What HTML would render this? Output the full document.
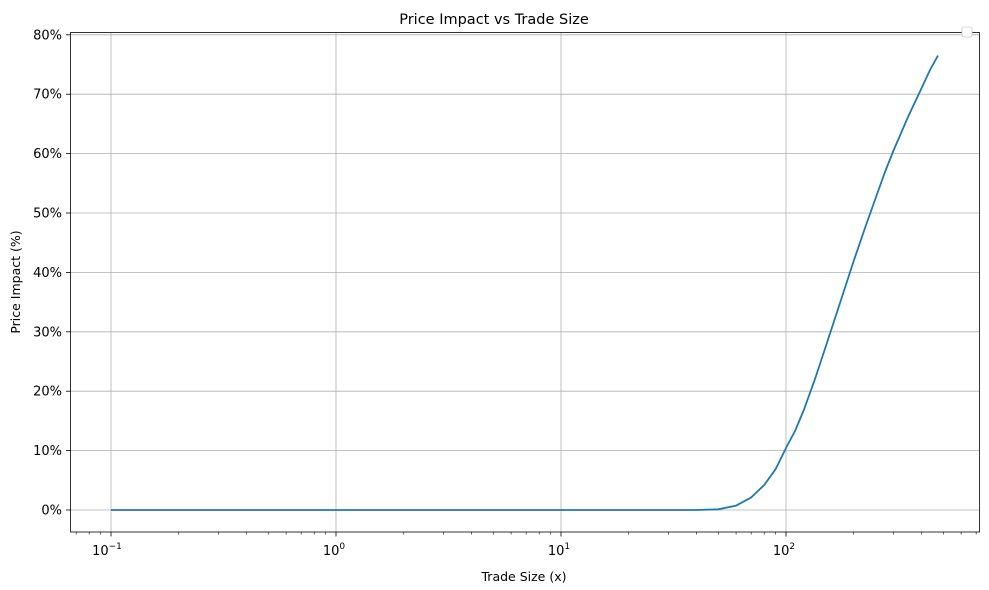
<!DOCTYPE html>
<html><head><style>body{margin:0;background:#fff}svg{display:block;font-family:"DejaVu Sans","Liberation Sans",sans-serif}</style></head><body>
<svg width="989" height="590" xmlns="http://www.w3.org/2000/svg">
<g stroke="#b0b0b0" stroke-width="0.8" id="grid"></g>
<g id="ticks" stroke="#000" stroke-width="0.8"></g>
<g id="labels" font-size="13" fill="#000"></g>
<g font-size="13" fill="#000" text-anchor="middle">
<text x="107" y="555">10<tspan font-size="9" dy="-6">−1</tspan></text>
<text x="334" y="555">10<tspan font-size="9" dy="-6">0</tspan></text>
<text x="559" y="555">10<tspan font-size="9" dy="-6">1</tspan></text>
<text x="784" y="555">10<tspan font-size="9" dy="-6">2</tspan></text>
</g>
<polyline fill="none" stroke="#1f77b4" stroke-width="1.8" points="111,510 696.5,510 718.3,509.3 736.1,505.6 751.1,497.5 764.2,485 775.7,469 786,448 795.5,430 803.8,410 815,379 825.6,347 840,303 853.7,261 865,228 875.5,198.5 885,172 893.3,151 908,117 921.4,88.5 930,70 938,55.6"/>
<rect x="70.5" y="32.5" width="909" height="499.5" fill="none" stroke="#000" stroke-width="0.8"/>
<rect x="962" y="27" width="10" height="10" rx="2" fill="#fff" stroke="#ccc" stroke-width="0.8"/>
<text x="494" y="24" font-size="14.5" text-anchor="middle">Price Impact vs Trade Size</text>
<text x="524" y="581" font-size="12.5" text-anchor="middle">Trade Size (x)</text>
<text x="20" y="282" font-size="12.5" text-anchor="middle" transform="rotate(-90 20 282)">Price Impact (%)</text>
<script>
var g=document.getElementById('grid'),t=document.getElementById('ticks'),l=document.getElementById('labels'),ns="http://www.w3.org/2000/svg";
function ln(p,a,b,c,d,w){var e=document.createElementNS(ns,'line');e.setAttribute('x1',a);e.setAttribute('y1',b);e.setAttribute('x2',c);e.setAttribute('y2',d);if(w)e.setAttribute('stroke-width',w);p.appendChild(e);}
function tx(x,y,s,a){var e=document.createElementNS(ns,'text');e.setAttribute('x',x);e.setAttribute('y',y);e.setAttribute('text-anchor',a);e.textContent=s;l.appendChild(e);}
for(var i=0;i<=8;i++){var y=510-59.4*i;ln(g,70.5,y,979.5,y);ln(t,66,y,70.5,y);tx(62,y+4.5,(i*10)+'%','end');}
for(var d=0;d<4;d++){var x=111+225*d;ln(g,x,32.5,x,532);ln(t,x,532,x,536.5);}
for(var d=-2;d<4;d++)for(var k=2;k<10;k++){var x=111+225*(d+Math.log10(k));if(x>70.5&&x<979.5)ln(t,x,532,x,534.5,0.6);}
</script>
</svg></body></html>
